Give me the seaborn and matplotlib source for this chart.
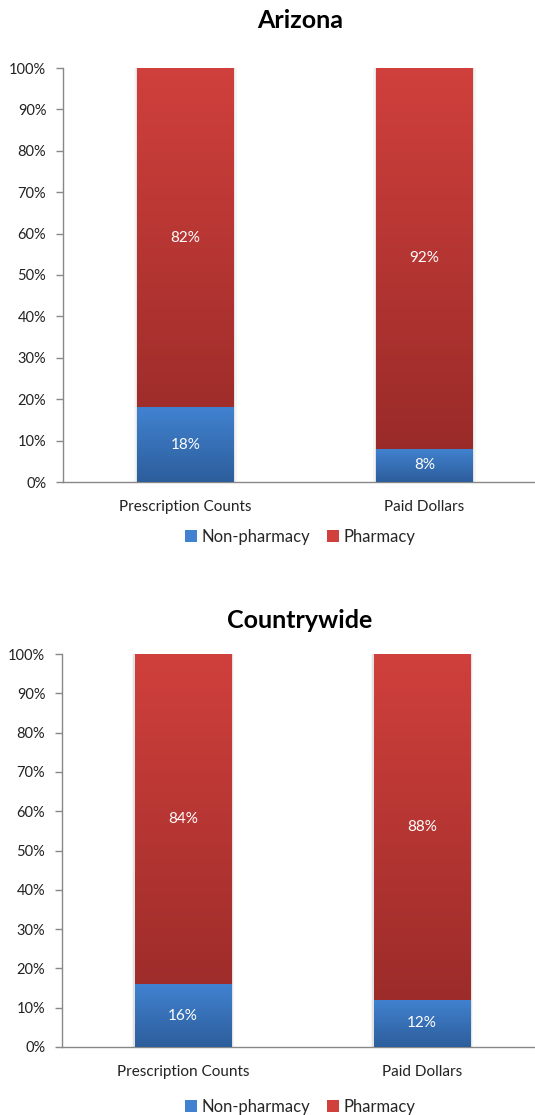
import numpy as np
import matplotlib
matplotlib.use("Agg")
import matplotlib.pyplot as plt
import seaborn as sns
from matplotlib.colors import LinearSegmentedColormap
from matplotlib.patches import Patch

categories = ["Prescription Counts", "Paid Dollars"]
arizona_nonpharmacy = [18, 8]
arizona_pharmacy = [82, 92]
country_nonpharmacy = [16, 12]
country_pharmacy = [84, 88]
yticks = [0, 10, 20, 30, 40, 50, 60, 70, 80, 90, 100]
ytick_labels = [f"{v}%" for v in yticks]

sns.set_theme(style="white")
plt.rcParams["font.family"] = ["Lato", "DejaVu Sans"]

RED_TOP, RED_BOT = "#D0403C", "#952927"
BLUE_TOP, BLUE_BOT = "#4182D0", "#2D5E9C"

fig = plt.figure(figsize=(5.35, 11.15), dpi=100)


def gradient_patch(ax, patch, top, bottom):
    x0, y0 = patch.get_x(), patch.get_y()
    w, h = patch.get_width(), patch.get_height()
    cmap = LinearSegmentedColormap.from_list("g", [bottom, top])
    grad = np.linspace(0, 1, 256).reshape(-1, 1)
    im = ax.imshow(grad, cmap=cmap, aspect="auto", origin="lower",
                   extent=(x0, x0 + w, y0, y0 + h), zorder=patch.get_zorder() + 0.1)
    im.set_clip_path(patch)
    patch.set_facecolor("none")
    patch.set_edgecolor("none")


def draw_panel(rect, xlim, nonpharm, pharm, title, title_y, legend_y):
    ax = fig.add_axes(rect)
    totals = [a + b for a, b in zip(nonpharm, pharm)]
    sns.barplot(x=categories, y=totals, color=RED_TOP, width=0.405,
                saturation=1, ax=ax, zorder=2)
    n_red = len(ax.patches)
    sns.barplot(x=categories, y=nonpharm, color=BLUE_TOP, width=0.405,
                saturation=1, ax=ax, zorder=3)
    patches = list(ax.patches)
    for p in patches[:n_red]:
        for dx, a in [(0.006, 0.07), (0.012, 0.04)]:
            sh = plt.Rectangle((p.get_x() - dx, p.get_y()), p.get_width() + 2 * dx,
                               p.get_height(), facecolor="#000000", alpha=a,
                               edgecolor="none", zorder=1)
            ax.add_patch(sh)
    for i, p in enumerate(patches):
        if i < n_red:
            gradient_patch(ax, p, RED_TOP, RED_BOT)
        else:
            gradient_patch(ax, p, BLUE_TOP, BLUE_BOT)
    for i in range(len(categories)):
        ax.text(i, nonpharm[i] + pharm[i] / 2, f"{pharm[i]}%", ha="center", va="center",
                color="white", fontsize=11, zorder=6)
        ax.text(i, nonpharm[i] / 2, f"{nonpharm[i]}%", ha="center", va="center",
                color="white", fontsize=11, zorder=6)
    ax.set_xlim(*xlim)
    ax.set_ylim(0, 100)
    ax.set_yticks(yticks)
    ax.set_yticklabels(ytick_labels, fontsize=10.5, color="#222222")
    ax.set_xticks([0, 1])
    ax.set_xticklabels(categories, fontsize=11, color="#222222")
    ax.tick_params(axis="x", length=0, pad=13)
    ax.set_xticks([0.5], minor=True)
    ax.tick_params(axis="x", which="minor", length=5, color="#888888", width=1)
    ax.tick_params(axis="y", length=5, color="#888888", width=1, pad=7, left=True)
    for s in ["top", "right"]:
        ax.spines[s].set_visible(False)
    for s in ["left", "bottom"]:
        ax.spines[s].set_color("#888888")
        ax.spines[s].set_linewidth(1)
    ax.grid(False)
    fig.text(300 / 535, 1 - title_y / 1115, title, ha="center", va="center",
             fontsize=18, fontweight="bold", color="#000000")
    handles = [Patch(facecolor=BLUE_TOP, edgecolor="none"),
               Patch(facecolor=RED_TOP, edgecolor="none")]
    fig.legend(handles, ["Non-pharmacy", "Pharmacy"], loc="center",
               bbox_to_anchor=(300 / 535, 1 - legend_y / 1115), ncol=2, frameon=False,
               fontsize=12, handlelength=0.75, handleheight=0.75, handletextpad=0.25,
               columnspacing=1.0)
    return ax


draw_panel([63 / 535, (1115 - 482) / 1115, (535 - 63) / 535, (482 - 68) / 1115],
           (-0.5125, 1.462), arizona_nonpharmacy, arizona_pharmacy, "Arizona", 21, 537)
draw_panel([62 / 535, (1115 - 1047) / 1115, (535 - 62) / 535, (1047 - 654) / 1115],
           (-0.506, 1.473), country_nonpharmacy, country_pharmacy, "Countrywide", 620, 1107)

fig.savefig("out.png", dpi=100)
